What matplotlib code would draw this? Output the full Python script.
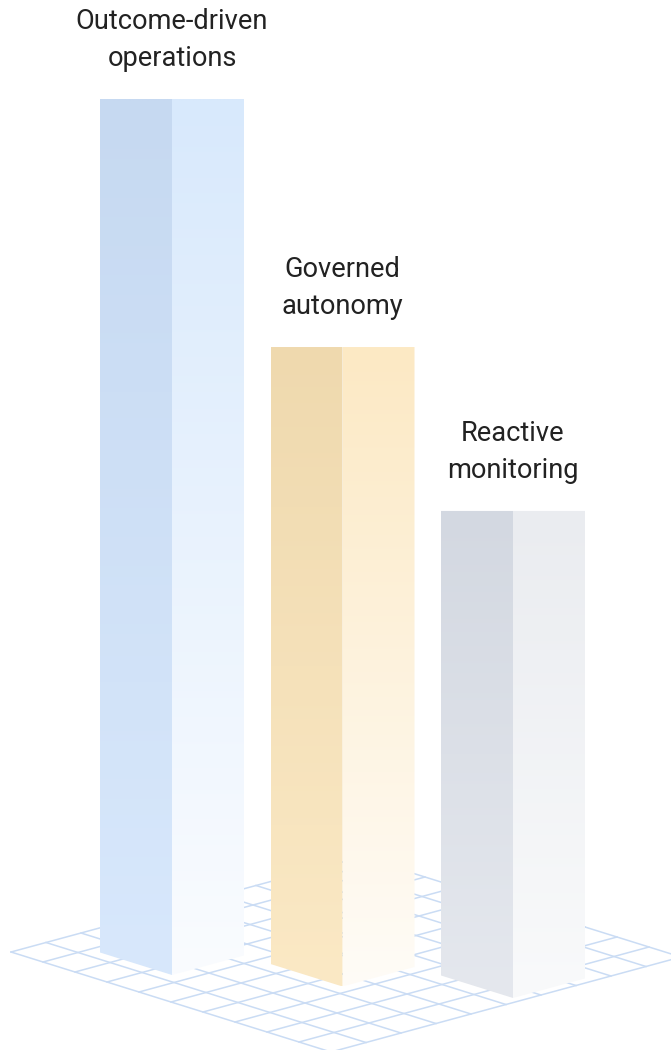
import numpy as np
import matplotlib
matplotlib.use("Agg")
from matplotlib import pyplot as plt
from matplotlib.patches import Polygon
from matplotlib.colors import to_rgb

plt.rcParams['font.family'] = ['Roboto', 'DejaVu Sans']

# data
labels = ["Outcome-driven\noperations", "Governed\nautonomy", "Reactive\nmonitoring"]
scores = [100, 73, 55.6]
left_top = ["#c6d9f1", "#efd9ae", "#d3d8e1"]
left_bottom = ["#d8e8fc", "#fbe9c5", "#e5e8ee"]
right_top = ["#d8e9fc", "#fce9c4", "#eaecf0"]
right_bottom = ["#fafcff", "#fffcf7", "#f9fafb"]

W, H = 671, 1050
fig = plt.figure(figsize=(W / 100, H / 100), dpi=100)
ax = fig.add_axes([0, 0, 1, 1])
ax.set_xlim(0, W)
ax.set_ylim(H, 0)
ax.axis("off")

# floor grid (isometric-ish), 10 x 10 cells
origin = np.array([11.0, 952.0])
u = np.array([35.0, -9.5])
v = np.array([32.0, 10.0])
n = 10
for k in range(n + 1):
    a = origin + k * u
    b = a + n * v
    ax.plot([a[0], b[0]], [a[1], b[1]], color="#cadcf4", lw=1.1, zorder=1)
    a = origin + k * v
    b = a + n * u
    ax.plot([a[0], b[0]], [a[1], b[1]], color="#cadcf4", lw=1.1, zorder=1)

px_per_unit = 8.76
half = 72
x0, dx = 172, 170.5
base0, dbase = 975, 11.5


def grad_face(poly, c_top, c_bot, z):
    xs = [p[0] for p in poly]
    ys = [p[1] for p in poly]
    t = np.linspace(0, 1, 256)[:, None]
    img = (1 - t) * np.array(to_rgb(c_top)) + t * np.array(to_rgb(c_bot))
    img = img[:, None, :]
    patch = Polygon(poly, closed=True, facecolor="none", edgecolor="none")
    ax.add_patch(patch)
    im = ax.imshow(img, extent=[min(xs), max(xs), max(ys), min(ys)],
                   aspect="auto", zorder=z, interpolation="bilinear")
    im.set_clip_path(patch)


for i, (lab, s) in enumerate(zip(labels, scores)):
    cx = x0 + dx * i
    yb = base0 + dbase * i
    top = yb - s * px_per_unit
    lslope = half * v[1] / v[0]
    rslope = half * u[1] / u[0]
    left = [(cx - half, top), (cx, top), (cx, yb), (cx - half, yb - lslope)]
    right = [(cx, top), (cx + half, top), (cx + half, yb + rslope), (cx, yb)]
    grad_face(left, left_top[i], left_bottom[i], 3)
    grad_face(right, right_top[i], right_bottom[i], 3)
    ax.text(cx, top - 59, lab, ha="center", va="center", fontsize=19.6,
            color="#222222", linespacing=1.47, zorder=5)

fig.savefig("out.png", dpi=100)
